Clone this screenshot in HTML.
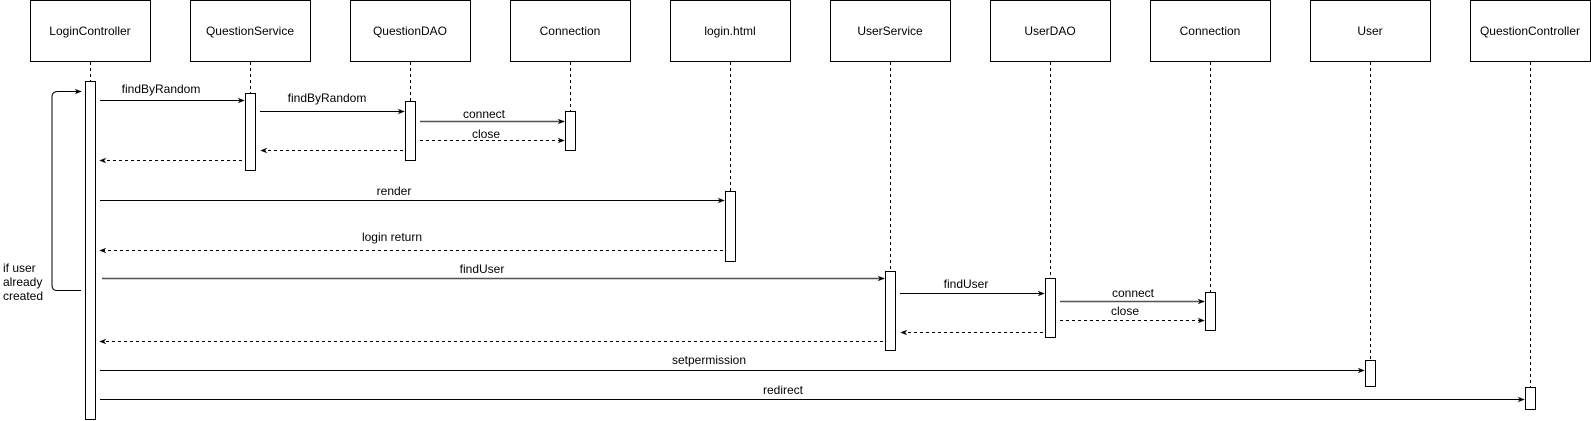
<!DOCTYPE html>
<html><head><meta charset="utf-8"><style>
html,body{margin:0;padding:0;background:#fff;}
svg{display:block;}
text{font-family:"Liberation Sans",Arial,sans-serif;font-size:12px;fill:#000;}
</style></head><body>
<svg width="1591" height="421" viewBox="0 0 1591 421" xmlns="http://www.w3.org/2000/svg">
<defs>
<marker id="a" viewBox="0 0 10 10" refX="9" refY="5" markerWidth="7" markerHeight="7" orient="auto-start-reverse" markerUnits="userSpaceOnUse"><path d="M0,1 L10,5 L0,9 L3,5 z" fill="#000"/></marker>
</defs>
<g fill="#fff" stroke="#000" stroke-width="1">
<rect x="30.5" y="0.5" width="120" height="61"/>
<rect x="190.5" y="0.5" width="120" height="61"/>
<rect x="350.5" y="0.5" width="120" height="61"/>
<rect x="510.5" y="0.5" width="120" height="61"/>
<rect x="670.5" y="0.5" width="120" height="61"/>
<rect x="830.5" y="0.5" width="120" height="61"/>
<rect x="990.5" y="0.5" width="120" height="61"/>
<rect x="1150.5" y="0.5" width="120" height="61"/>
<rect x="1310.5" y="0.5" width="120" height="61"/>
<rect x="1470.5" y="0.5" width="120" height="61"/>
</g>
<g text-anchor="middle">
<text x="90" y="35">LoginController</text>
<text x="250" y="35">QuestionService</text>
<text x="410" y="35">QuestionDAO</text>
<text x="570" y="35">Connection</text>
<text x="730" y="35">login.html</text>
<text x="890" y="35">UserService</text>
<text x="1050" y="35">UserDAO</text>
<text x="1210" y="35">Connection</text>
<text x="1370" y="35">User</text>
<text x="1530" y="35">QuestionController</text>
</g>
<g stroke="#000" stroke-dasharray="3,3" fill="none">
<line x1="90.5" y1="62" x2="90.5" y2="81"/>
<line x1="250.5" y1="62" x2="250.5" y2="93"/>
<line x1="410.5" y1="62" x2="410.5" y2="101"/>
<line x1="570.5" y1="62" x2="570.5" y2="111"/>
<line x1="730.5" y1="62" x2="730.5" y2="191"/>
<line x1="890.5" y1="62" x2="890.5" y2="271"/>
<line x1="1050.5" y1="62" x2="1050.5" y2="278"/>
<line x1="1210.5" y1="62" x2="1210.5" y2="292"/>
<line x1="1370.5" y1="62" x2="1370.5" y2="360"/>
<line x1="1530.5" y1="62" x2="1530.5" y2="387"/>
</g>
<g fill="#fff" stroke="#000">
<rect x="85.5" y="81.5" width="10" height="338"/>
<rect x="245.5" y="93.5" width="10" height="77"/>
<rect x="405.5" y="101.5" width="10" height="59"/>
<rect x="565.5" y="111.5" width="10" height="39"/>
<rect x="725.5" y="191.5" width="10" height="70"/>
<rect x="885.5" y="271.5" width="10" height="79"/>
<rect x="1045.5" y="278.5" width="10" height="59"/>
<rect x="1205.5" y="292.5" width="10" height="38"/>
<rect x="1365.5" y="360.5" width="10" height="26"/>
<rect x="1525.5" y="387.5" width="10" height="22"/>
</g>
<g stroke="#000" fill="none" marker-end="url(#a)">
<line x1="100" y1="100.5" x2="244" y2="100.5"/>
<line x1="260" y1="111.5" x2="404" y2="111.5"/>
<line x1="420" y1="121.5" x2="564" y2="121.5" stroke="#555" stroke-width="1.5"/>
<line x1="420" y1="140.5" x2="564" y2="140.5" stroke-dasharray="3,3"/>
<line x1="403" y1="150.5" x2="261" y2="150.5" stroke-dasharray="3,3"/>
<line x1="242" y1="160.5" x2="100" y2="160.5" stroke-dasharray="3,3"/>
<line x1="100" y1="200.5" x2="724" y2="200.5"/>
<line x1="723" y1="250.5" x2="100" y2="250.5" stroke-dasharray="3,3"/>
<line x1="102" y1="278.5" x2="884" y2="278.5" stroke="#555" stroke-width="1.5"/>
<line x1="900" y1="293.5" x2="1044" y2="293.5"/>
<line x1="1060" y1="301.5" x2="1204" y2="301.5" stroke="#555" stroke-width="1.5"/>
<line x1="1060" y1="320.5" x2="1204" y2="320.5" stroke-dasharray="3,3"/>
<line x1="1043" y1="332.5" x2="901" y2="332.5" stroke-dasharray="3,3"/>
<line x1="883" y1="341.5" x2="100" y2="341.5" stroke-dasharray="3,3"/>
<line x1="100" y1="370.5" x2="1364" y2="370.5"/>
<line x1="100" y1="399.5" x2="1524" y2="399.5"/>
<path d="M81,290.5 H57 Q52,290.5 52,285 V97 Q52,91.5 58,91.5 H81"/>
</g>
<g text-anchor="middle">
<text x="161" y="93">findByRandom</text>
<text x="327" y="102">findByRandom</text>
<text x="484" y="118">connect</text>
<text x="486" y="138">close</text>
<text x="394" y="195">render</text>
<text x="392" y="241">login return</text>
<text x="482" y="273">findUser</text>
<text x="966" y="288">findUser</text>
<text x="1133" y="297">connect</text>
<text x="1125" y="315">close</text>
<text x="709" y="364">setpermission</text>
<text x="783" y="394">redirect</text>
</g>
<text x="3" y="272">if user</text>
<text x="3" y="286">already</text>
<text x="3" y="300">created</text>
</svg>
</body></html>
